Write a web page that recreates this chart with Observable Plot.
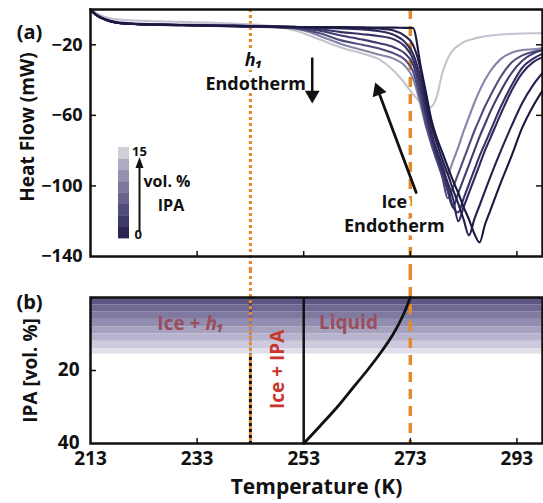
<!DOCTYPE html>
<html><head><meta charset="utf-8">
<script src="https://cdn.jsdelivr.net/npm/d3@7"></script>
<script src="https://cdn.jsdelivr.net/npm/@observablehq/plot@0.6"></script>
<style>
html,body{margin:0;padding:0;background:#fff;}
#chart{position:relative;width:543px;height:503px;overflow:hidden;font-family:'Open Sans',sans-serif;font-weight:700;}
#chart svg{position:absolute;left:0;}
</style></head><body><div id="chart"></div>
<script>
// ---------- data ----------
const temps = [213,214,216,218,222,230,240,248, 252,256,260,264,267,270,272,273.5, 275,276,277,278,279,280,281,282,283,284,285,286,287,288, 290,292,294,296,297.8];
const ipaLevels = [0, 2, 4, 6, 8, 10, 12, 15];
const hf0  = [0,-3,-6,-7.5,-8.3,-8.8,-9.3,-9.7, -9.9,-10,-10,-10.1,-10.2,-10.3,-10.4,-10.5, -33,-48,-63,-73,-81,-89,-97,-104,-112,-119,-127,-132,-122,-114, -98,-83,-67,-55,-46];
const hf2  = [0,-3,-6,-7.5,-8.3,-8.8,-9.3,-9.7, -9.9,-10.1,-10.2,-10.4,-10.8,-12,-15,-20, -35,-52,-66,-76,-85,-93,-102,-110,-119,-128,-119,-111,-103,-95, -80,-66,-53,-43,-36];
const hf4  = [0,-3,-6,-7.5,-8.3,-8.8,-9.3,-9.7, -10,-10.3,-10.8,-11.3,-12.2,-14.5,-18.5,-25, -40,-56,-70,-80,-89,-98,-107,-120,-112,-104,-96,-88,-80,-73, -59,-46,-36,-30,-27];
const hf6  = [0,-3,-6,-7.5,-8.3,-8.8,-9.4,-9.9, -10.3,-11.2,-12.8,-14,-15,-17,-21,-28, -44,-59,-72,-82,-91,-100,-112,-115,-107,-99,-91,-83,-76,-69, -55,-43,-33,-28,-25];
const hf8  = [0,-3,-6,-7.5,-8.3,-8.9,-9.5,-10, -10.6,-12,-14.7,-17,-19,-21.5,-25,-31, -48,-62,-74,-84,-93,-103,-112,-104,-96,-88,-80,-72,-65,-58, -46,-36,-29,-25,-23];
const hf10 = [0,-3,-6,-7.5,-8.3,-9,-9.6,-10.2, -11,-13.5,-17.5,-20,-22,-25,-28.5,-35, -52,-66,-77,-86,-95,-107,-101,-93,-85,-77,-69,-62,-55,-49, -38,-30,-26,-24,-23];
const hf12 = [0,-2.5,-5.5,-7,-8,-8.5,-9,-9.8, -11,-15,-19.5,-23,-25.5,-28,-32,-39, -55,-67,-75,-81,-87,-93,-86,-78,-69,-61,-53,-46,-40,-35, -28,-24.5,-23,-22.5,-22];
const hf15 = [0,-2,-4.5,-5.5,-6.3,-7,-8,-9.8, -12.5,-17,-21.5,-25,-28,-35,-42,-48, -53,-56,-55,-49,-36,-28,-23,-20.5,-18.5,-17.3,-16.5,-15.8,-15.2,-14.8, -14.2,-13.8,-13.6,-13.5,-13.5];
const hfSeries = [hf0, hf2, hf4, hf6, hf8, hf10, hf12, hf15];
const curveColors  = ["#1b1840", "#242050", "#2d295b", "#363265", "#413d70", "#504d7d", "#8684a8", "#c4c4d0"];
const legendColors = ["#2a2550", "#3e3a66", "#514d79", "#67638b", "#7d799c", "#9490af", "#aeabc2", "#cfcfd6"];

const xTicks = [213, 233, 253, 273, 293];
const yTicksTop = [-20, -60, -100, -140];
const yTicksBottom = [20, 40];

const h1Temp = 243, iceTemp = 273, eutecticTemp = 253;
const liqT   = [273, 271.6, 269.8, 267.5, 264.9, 262.1, 259.3, 256.2, 253];
const liqIPA = [0, 5, 10, 15, 20, 25, 30, 35, 40];
const bandFrom   = [0, 2, 4, 6, 8, 10, 12, 14];
const bandTo     = [2, 4, 6, 8, 10, 12, 14, 15.5];
const bandColors = ["#4f4878", "#625b89", "#756f99", "#8984aa", "#9d99ba", "#b2aec9", "#c8c5d9", "#dedce8"];

const orange = "#e38b2c";
const ink = "#111";
const xDomain = [213, 297.8];

// ---------- top panel ----------
const W = 543, HT = 270, HB = 233, ML = 90, MR = 1;
const topMT = 9, topMB = 14;
const topFH = HT - topMT - topMB;
const FW = W - ML - MR;

const curveMarks = hfSeries.map((s, i) => ({s, i})).reverse().map(({s, i}) =>
  Plot.line(temps.map((t, k) => ({T: t, HF: s[k]})), {x: "T", y: "HF", stroke: curveColors[i], strokeWidth: 2.1, curve: "monotone-x"})
);

const txt = d => d;
const topPlot = Plot.plot({
  width: W, height: HT,
  marginTop: topMT, marginBottom: topMB, marginLeft: ML, marginRight: MR,
  x: {domain: xDomain, axis: null},
  y: {domain: [-140, 0], axis: null},
  style: {fontFamily: "'Open Sans', sans-serif", fontWeight: 700, color: ink, background: "transparent"},
  marks: [
    Plot.ruleX([h1Temp], {stroke: orange, strokeWidth: 3.2, strokeDasharray: "3,3", insetBottom: -topMB}),
    Plot.ruleX([iceTemp], {stroke: orange, strokeWidth: 3.5, strokeDasharray: "10,7", insetBottom: -topMB}),
    Plot.text(["h₁"], {x: 243.6, y: -28.5, text: txt, fontSize: 18, fontStyle: "italic", fill: ink, stroke: "white", strokeWidth: 8, textAnchor: "middle"}),
    Plot.text(["Endotherm"], {x: 244, y: -42.5, text: txt, fontSize: 18, fill: ink, stroke: "white", strokeWidth: 8, textAnchor: "middle"}),
    Plot.text(["Ice"], {x: 270, y: -109.4, text: txt, fontSize: 18, fill: ink, stroke: "white", strokeWidth: 8, textAnchor: "middle"}),
    Plot.text(["Endotherm"], {x: 270, y: -123, text: txt, fontSize: 18, fill: ink, stroke: "white", strokeWidth: 8, textAnchor: "middle"}),
    ...curveMarks,
    // arrows
    Plot.arrow([0], {x1: 254.6, y1: -27.8, x2: 254.6, y2: -53.3, headLength: 0, insetEnd: 9, stroke: ink, strokeWidth: 2.5}),
    Plot.dot([0], {x: 254.6, y: -53.3, symbol: "triangle", r: 5.5, rotate: 180, dy: -8.5, fill: ink, stroke: "none"}),
    Plot.arrow([0], {x1: 274.1, y1: -103.7, x2: 266.4, y2: -41.4, headLength: 0, insetEnd: 9, stroke: ink, strokeWidth: 2.8}),
    Plot.dot([0], {x: 266.4, y: -41.4, symbol: "triangle", r: 5.5, rotate: -20.4, dx: 3, dy: 8, fill: ink, stroke: "none"}),
    // inward ticks
    Plot.ruleX(xTicks.filter(t => t > xDomain[0]), {insetTop: topFH - 5, stroke: ink, strokeWidth: 1.5}),
    Plot.ruleY(yTicksTop.slice(0, 3), {insetRight: FW - 6, stroke: ink, strokeWidth: 1.5}),
    Plot.ruleY(yTicksTop.slice(0, 3), {insetLeft: FW - 6, stroke: ink, strokeWidth: 1.5}),
    Plot.frame({stroke: ink, strokeWidth: 2.5}),
    Plot.axisY({ticks: yTicksTop, tickSize: 0, tickPadding: 8, fontSize: 18, label: null}),
    Plot.text(["Heat Flow (mW)"], {frameAnchor: "left", dx: -63, dy: -6, rotate: -90, text: txt, fontSize: 19, textAnchor: "middle", fill: ink}),
    Plot.text(["(a)"], {frameAnchor: "top-left", dx: -61, dy: 15, text: txt, fontSize: 20, textAnchor: "middle", fill: ink})
  ]
});
topPlot.style.top = "0px";

// ---------- bottom panel ----------
const botMT = 27, botMB = 60;
const botFH = HB - botMT - botMB;
const bands = bandFrom.map((f, i) => ({f, t: bandTo[i], c: bandColors[i]}));
const liquidus = liqT.map((t, i) => ({T: t, ipa: liqIPA[i]}));

const botPlot = Plot.plot({
  width: W, height: HB,
  marginTop: botMT, marginBottom: botMB, marginLeft: ML, marginRight: MR,
  x: {domain: xDomain, axis: null},
  y: {domain: [0, 40], reverse: true, axis: null},
  style: {fontFamily: "'Open Sans', sans-serif", fontWeight: 700, color: ink, background: "transparent"},
  marks: [
    Plot.ruleX([h1Temp], {stroke: ink, strokeWidth: 3, strokeDasharray: "3,3"}),
    Plot.rect(bands, {y1: "f", y2: "t", fill: "c", fillOpacity: 0.92}),
    Plot.ruleX([h1Temp], {stroke: orange, strokeWidth: 3, strokeDasharray: "3,3", insetTop: -botMT}),
    Plot.ruleX([iceTemp], {stroke: orange, strokeWidth: 3.5, strokeDasharray: "10,7", insetTop: -botMT}),
    Plot.ruleX([eutecticTemp], {stroke: ink, strokeWidth: 2.5}),
    Plot.line(liquidus, {x: "T", y: "ipa", stroke: ink, strokeWidth: 2.8, curve: "catmull-rom"}),
    Plot.text(["Ice + h₁"], {x: 231.8, y: 7.1, text: txt, fontSize: 19, fill: "#9a4d5c", textAnchor: "middle"}),
    Plot.text(["Liquid"], {x: 261.4, y: 6.9, text: txt, fontSize: 19, fill: "#9a4d5c", textAnchor: "middle"}),
    Plot.text(["Ice + IPA"], {x: 248.1, y: 19.7, text: txt, fontSize: 19, fill: "#c9372c", rotate: -90, textAnchor: "middle"}),
    Plot.ruleX([233, 273, 293], {insetTop: botFH - 5, stroke: ink, strokeWidth: 1.5}),
    Plot.ruleY([20], {insetRight: FW - 6, stroke: ink, strokeWidth: 1.5}),
    Plot.frame({stroke: ink, strokeWidth: 2.5}),
    Plot.axisX({ticks: xTicks, tickSize: 0, tickPadding: 8, fontSize: 19, label: null}),
    Plot.axisY({ticks: yTicksBottom, tickSize: 0, tickPadding: 11, fontSize: 19, label: null, dy: -1}),
    Plot.text(["IPA [vol. %]"], {frameAnchor: "left", dx: -60, rotate: -90, text: txt, fontSize: 19, textAnchor: "middle", fill: ink}),
    Plot.text(["Temperature (K)"], {frameAnchor: "bottom", dy: 50, text: txt, fontSize: 21, textAnchor: "middle", fill: ink}),
    Plot.text(["(b)"], {frameAnchor: "top-left", dx: -61, dy: -3, text: txt, fontSize: 20, textAnchor: "middle", fill: ink})
  ]
});
botPlot.style.top = HT + "px";

// italic h in "Ice + h₁"
d3.select(botPlot).selectAll("text").filter(function() { return this.textContent === "Ice + h₁"; })
  .each(function() {
    const t = d3.select(this); t.text("");
    t.append("tspan").text("Ice + ");
    t.append("tspan").attr("font-style", "italic").text("h₁");
  });

// ---------- legend overlay ----------
const leg = d3.create("svg").attr("width", W).attr("height", HT)
  .style("top", "0px").style("pointer-events", "none")
  .attr("font-family", "'Open Sans', sans-serif").attr("font-weight", 700).attr("fill", ink);
const barTop = 147, barBot = 238, bh = (barBot - barTop) / ipaLevels.length;
ipaLevels.forEach((v, i) => {
  leg.append("rect").attr("x", 118).attr("y", barBot - (i + 1) * bh).attr("width", 11).attr("height", bh + 0.4).attr("fill", legendColors[i]);
});
leg.append("text").attr("x", 132).attr("y", 156).attr("font-size", 13).text(ipaLevels[ipaLevels.length - 1]);
leg.append("text").attr("x", 134.5).attr("y", 239).attr("font-size", 13).text(ipaLevels[0]);
leg.append("line").attr("x1", 139.5).attr("x2", 139.5).attr("y1", 231).attr("y2", 166).attr("stroke", ink).attr("stroke-width", 2);
leg.append("path").attr("d", "M139.5,157 L135.5,168 L143.5,168 Z").attr("fill", ink);
leg.append("text").attr("x", 167).attr("y", 187).attr("font-size", 16).attr("text-anchor", "middle").text("vol. %");
leg.append("text").attr("x", 171).attr("y", 211).attr("font-size", 16).attr("text-anchor", "middle").text("IPA");

const chart = document.getElementById("chart");
chart.appendChild(topPlot);
chart.appendChild(botPlot);
chart.appendChild(leg.node());
</script></body></html>
